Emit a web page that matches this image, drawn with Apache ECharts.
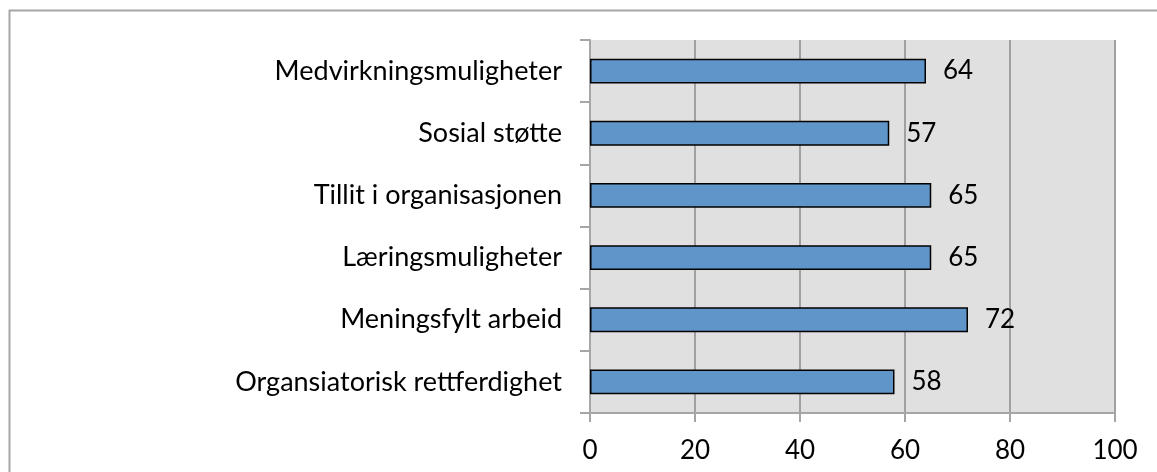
<!DOCTYPE html>
<html>
<head>
<meta charset="utf-8">
<script src="https://cdn.jsdelivr.net/npm/echarts@6/dist/echarts.min.js"></script>
<style>
  html, body { margin: 0; padding: 0; background: #fff; }
  #main { width: 1157px; height: 472px; }
</style>
</head>
<body>
<div id="main"></div>
<script>
var categories = ['Medvirkningsmuligheter', 'Sosial støtte', 'Tillit i organisasjonen',
    'Læringsmuligheter', 'Meningsfylt arbeid', 'Organsiatorisk rettferdighet'];
var values = [64, 57, 65, 65, 72, 58];
var xTicks = [0, 20, 40, 60, 80, 100];

var chart = echarts.init(document.getElementById('main'));

var option = {
    animation: false,
    textStyle: { fontFamily: 'Lato' },
    graphic: [{
        type: 'rect',
        shape: { x: 9.5, y: 10.5, width: 1160, height: 470 },
        style: { fill: null, stroke: '#a6a6a6', lineWidth: 2 },
        silent: true
    }],
    grid: {
        left: 590,
        right: 42,
        top: 40,
        bottom: 59,
        show: true,
        backgroundColor: '#e0e0e0',
        borderWidth: 0
    },
    xAxis: {
        type: 'value',
        min: 0,
        max: 100,
        interval: 20,
        axisLine: { show: true, lineStyle: { color: '#a6a6a6', width: 2 } },
        axisTick: { show: true, length: 9, lineStyle: { color: '#a6a6a6', width: 2 } },
        splitLine: { show: true, lineStyle: { color: '#a0a0a0', width: 2 } },
        axisLabel: {
            color: '#000',
            fontSize: 26,
            margin: 25,
            formatter: function (v) { return xTicks.indexOf(v) >= 0 ? String(v) : ''; }
        }
    },
    yAxis: {
        type: 'category',
        data: categories,
        inverse: true,
        axisLine: { show: true, lineStyle: { color: '#a6a6a6', width: 2 } },
        axisTick: { show: true, length: 10, lineStyle: { color: '#a6a6a6', width: 2 } },
        axisLabel: { color: '#000', fontSize: 27, margin: 28 }
    },
    series: [{
        type: 'bar',
        data: values,
        barCategoryGap: '60%',
        itemStyle: { color: '#5f95c9', borderColor: '#000', borderWidth: 1.5 },
        label: {
            show: true,
            position: 'right',
            distance: 17,
            color: '#000',
            fontSize: 26,
            fontFamily: 'Lato'
        }
    }]
};

option && chart.setOption(option);
</script>
</body>
</html>
